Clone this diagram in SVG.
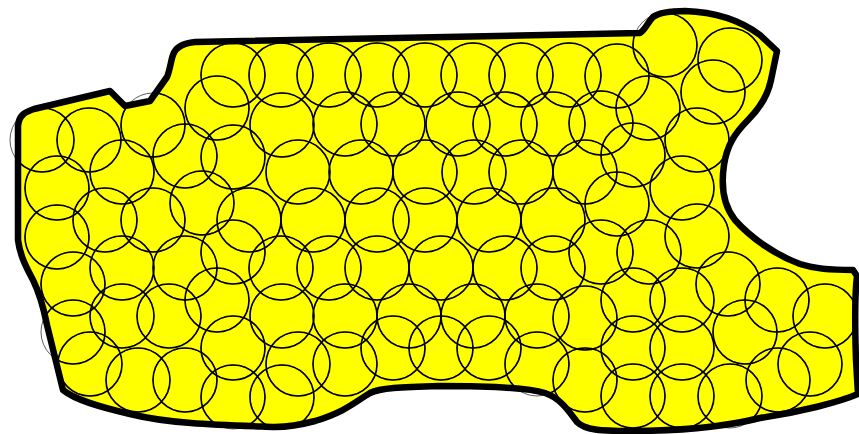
<svg xmlns="http://www.w3.org/2000/svg" xmlns:xlink="http://www.w3.org/1999/xlink" width="859" height="434" viewBox="0 0 859 434">
<style>
.blob{fill:#ffff00;stroke:none}
.edge{fill:none;stroke:#000;stroke-width:6.5;stroke-linejoin:round}
.c{fill:none;stroke:#000;stroke-width:1.6}
.thin{stroke:#333;stroke-width:0.8}
</style>
<defs>
<path id="shape" d="M18,126 C19,115 25,112 34,109 L110,91 L125,106 L150,101 L167,77 C170,70 171,60 173,55 C176,46 184,43 195,42 L640,33 C645,30 648,22 653,17 C660,12 672,11 685,11 C715,12 740,20 760,35 L777,51 L771,80 C768,95 760,108 748,120 C735,133 727,145 724,165 C721,185 723,205 735,220 C750,237 775,255 800,264 C815,269 830,270 853,270 L857,276 C854,300 855,330 856,360 L858,394 C840,402 800,412 760,418 C720,428 680,431 630,431 C600,431 585,430 577,422 C568,410 560,398 545,393 C525,387 480,386 440,386 C400,387 380,388 370,393 C355,402 345,412 315,421 C300,425 290,427 275,427 C220,425 170,424 130,414 C100,407 75,400 63,390 C58,370 52,345 47,325 C43,305 38,290 33,280 C25,265 20,255 18,240 Z"/>
<clipPath id="clip"><use xlink:href="#shape"/></clipPath>
<g id="circles" fill="none">
<circle cx="233" cy="75" r="32"/><circle cx="281" cy="75" r="32"/><circle cx="329" cy="75" r="32"/><circle cx="377" cy="75" r="32"/><circle cx="425" cy="75" r="32"/><circle cx="473" cy="75" r="32"/><circle cx="521" cy="75" r="32"/><circle cx="569" cy="75" r="32"/><circle cx="617" cy="76" r="32"/><circle cx="665" cy="45" r="32"/><circle cx="730" cy="60" r="32"/><circle cx="713" cy="92" r="32"/><circle cx="648" cy="108" r="32"/><circle cx="217" cy="108" r="32"/>
<circle cx="42" cy="140" r="32"/><circle cx="89" cy="140" r="32"/><circle cx="153" cy="125" r="32"/><circle cx="282" cy="125" r="32"/><circle cx="345" cy="124" r="32"/><circle cx="393" cy="124" r="32"/><circle cx="458" cy="124" r="32"/><circle cx="505" cy="124" r="32"/><circle cx="553" cy="124" r="32"/><circle cx="601" cy="123" r="32"/><circle cx="697" cy="140" r="32"/>
<circle cx="185" cy="156" r="32"/><circle cx="233" cy="157" r="32"/><circle cx="633" cy="155" r="32"/><circle cx="122" cy="172" r="32"/><circle cx="298" cy="172" r="32"/><circle cx="361" cy="172" r="32"/><circle cx="425" cy="172" r="32"/><circle cx="474" cy="172" r="32"/><circle cx="521" cy="172" r="32"/><circle cx="585" cy="172" r="32"/><circle cx="57" cy="188" r="32"/><circle cx="682" cy="188" r="32"/>
<circle cx="202" cy="203" r="32"/><circle cx="617" cy="204" r="32"/><circle cx="105" cy="220" r="32"/><circle cx="153" cy="220" r="32"/><circle cx="249" cy="220" r="32"/><circle cx="313" cy="220" r="32"/><circle cx="377" cy="220" r="32"/><circle cx="425" cy="220" r="32"/><circle cx="489" cy="220" r="32"/><circle cx="553" cy="220" r="32"/>
<circle cx="57" cy="237" r="32"/><circle cx="233" cy="252" r="32"/><circle cx="601" cy="252" r="32"/><circle cx="649" cy="252" r="32"/><circle cx="697" cy="236" r="32"/>
<circle cx="122" cy="268" r="32"/><circle cx="185" cy="268" r="32"/><circle cx="281" cy="268" r="32"/><circle cx="329" cy="268" r="32"/><circle cx="377" cy="268" r="32"/><circle cx="441" cy="268" r="32"/><circle cx="505" cy="268" r="32"/><circle cx="553" cy="268" r="32"/>
<circle cx="73" cy="284" r="32"/><circle cx="217" cy="300" r="32"/><circle cx="633" cy="300" r="32"/><circle cx="682" cy="300" r="32"/><circle cx="728" cy="284" r="32"/><circle cx="777" cy="300" r="32"/>
<circle cx="122" cy="316" r="32"/><circle cx="169" cy="316" r="32"/><circle cx="282" cy="316" r="32"/><circle cx="345" cy="316" r="32"/><circle cx="409" cy="316" r="32"/><circle cx="473" cy="316" r="32"/><circle cx="537" cy="316" r="32"/><circle cx="585" cy="318" r="32"/><circle cx="825" cy="316" r="32"/>
<circle cx="73" cy="332" r="32"/><circle cx="745" cy="332" r="32"/>
<circle cx="233" cy="348" r="32"/><circle cx="393" cy="348" r="32"/><circle cx="441" cy="348" r="32"/><circle cx="489" cy="348" r="32"/><circle cx="633" cy="348" r="32"/><circle cx="682" cy="348" r="32"/>
<circle cx="90" cy="364" r="32"/><circle cx="298" cy="364" r="32"/><circle cx="345" cy="364" r="32"/><circle cx="537" cy="364" r="32"/><circle cx="810" cy="364" r="32"/>
<circle cx="138" cy="380" r="32"/><circle cx="185" cy="380" r="32"/><circle cx="585" cy="380" r="32"/><circle cx="778" cy="380" r="32"/>
<circle cx="233" cy="397" r="32"/><circle cx="282" cy="397" r="32"/><circle cx="633" cy="396" r="32"/><circle cx="682" cy="396" r="32"/><circle cx="730" cy="396" r="32"/>
</g>
</defs>
<rect width="859" height="434" fill="#ffffff"/>
<use xlink:href="#shape" class="blob"/>
<g class="c thin"><use xlink:href="#circles"/></g>
<g class="c" clip-path="url(#clip)"><use xlink:href="#circles"/></g>
<use xlink:href="#shape" class="edge"/>
</svg>
